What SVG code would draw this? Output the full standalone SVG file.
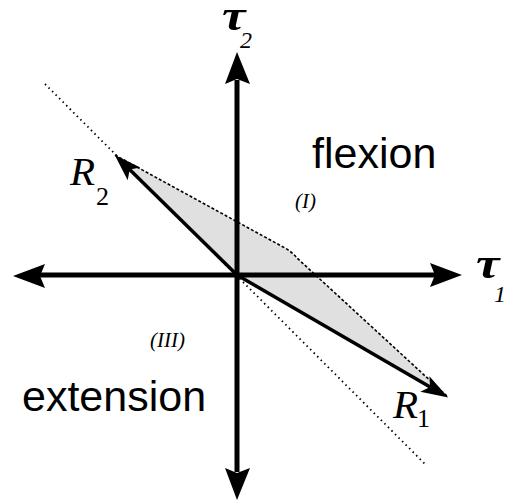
<svg xmlns="http://www.w3.org/2000/svg" width="507" height="502" viewBox="0 0 507 502">
<style>
.axis{stroke:#000;stroke-width:5;fill:none}
.head{fill:#000}
.vec{stroke:#000;stroke-width:3.5;fill:none;marker-end:url(#rhead)}
.serif{font-family:"Liberation Serif","Times New Roman",serif;font-style:italic;fill:#000}
.tau{font-family:"Liberation Serif","Times New Roman",serif;font-style:italic;font-weight:bold;font-size:44px;fill:#000}
.up{font-family:"Liberation Serif","Times New Roman",serif;font-style:normal;fill:#000}
.sans{font-family:"Liberation Sans",Arial,sans-serif;fill:#000}
</style>
<defs>
<marker id="rhead" markerUnits="userSpaceOnUse" markerWidth="40" markerHeight="30" viewBox="-20 -15 40 30" refX="0" refY="0" orient="auto">
<path d="M13,0 L-14,-9 L-8,0 L-14,9 Z" fill="#000"/>
</marker>
</defs>
<rect width="507" height="502" fill="#fff"/>
<g id="region">
<path d="M237,275 L115,155 L285,248 Q292,252 297,258 L448,397 Z" fill="#e0e0e0"/>
<path d="M115,155 L285,248 Q292,252 297,258 L448,397" fill="none" stroke="#000" stroke-width="1.6" stroke-dasharray="3,2"/>
</g>
<g id="boundary">
<line x1="45" y1="84" x2="426" y2="465" stroke="#000" stroke-width="1.8" stroke-dasharray="1.5,3.5"/>
</g>
<g id="axes">
<line class="axis" x1="40" y1="275" x2="435" y2="275"/>
<line class="axis" x1="237" y1="80" x2="237" y2="472"/>
<path class="head" d="M13,276 L45,264 L40,276 L45,288 Z"/>
<path class="head" d="M462,275 L430,263 L435,275 L430,287 Z"/>
<path class="head" d="M237,52 L225,84 L237,79 L250,84 Z"/>
<path class="head" d="M237,500 L225,468 L237,473 L250,468 Z"/>
</g>
<g id="vectors">
<line class="vec" x1="237" y1="275" x2="124" y2="164"/>
<line class="vec" x1="237" y1="275" x2="437" y2="391"/>
</g>
<g id="labels">
<text class="tau" transform="translate(222,30) scale(1.2,1)">τ</text>
<text class="serif" x="240" y="48" font-size="24">2</text>
<text class="tau" transform="translate(476,278) scale(1.2,1)">τ</text>
<text class="serif" x="494" y="302" font-size="24">1</text>
<text class="serif" x="70" y="185" font-size="41">R</text>
<text class="up" x="96" y="205" font-size="26">2</text>
<text class="serif" x="393" y="418" font-size="41">R</text>
<text class="up" x="417" y="427" font-size="26">1</text>
<text class="sans" x="312" y="168" font-size="43">flexion</text>
<text class="sans" x="22" y="411" font-size="43">extension</text>
<text class="serif" x="295" y="208" font-size="21">(I)</text>
<text class="serif" x="150" y="347" font-size="21">(III)</text>
</g>
</svg>
